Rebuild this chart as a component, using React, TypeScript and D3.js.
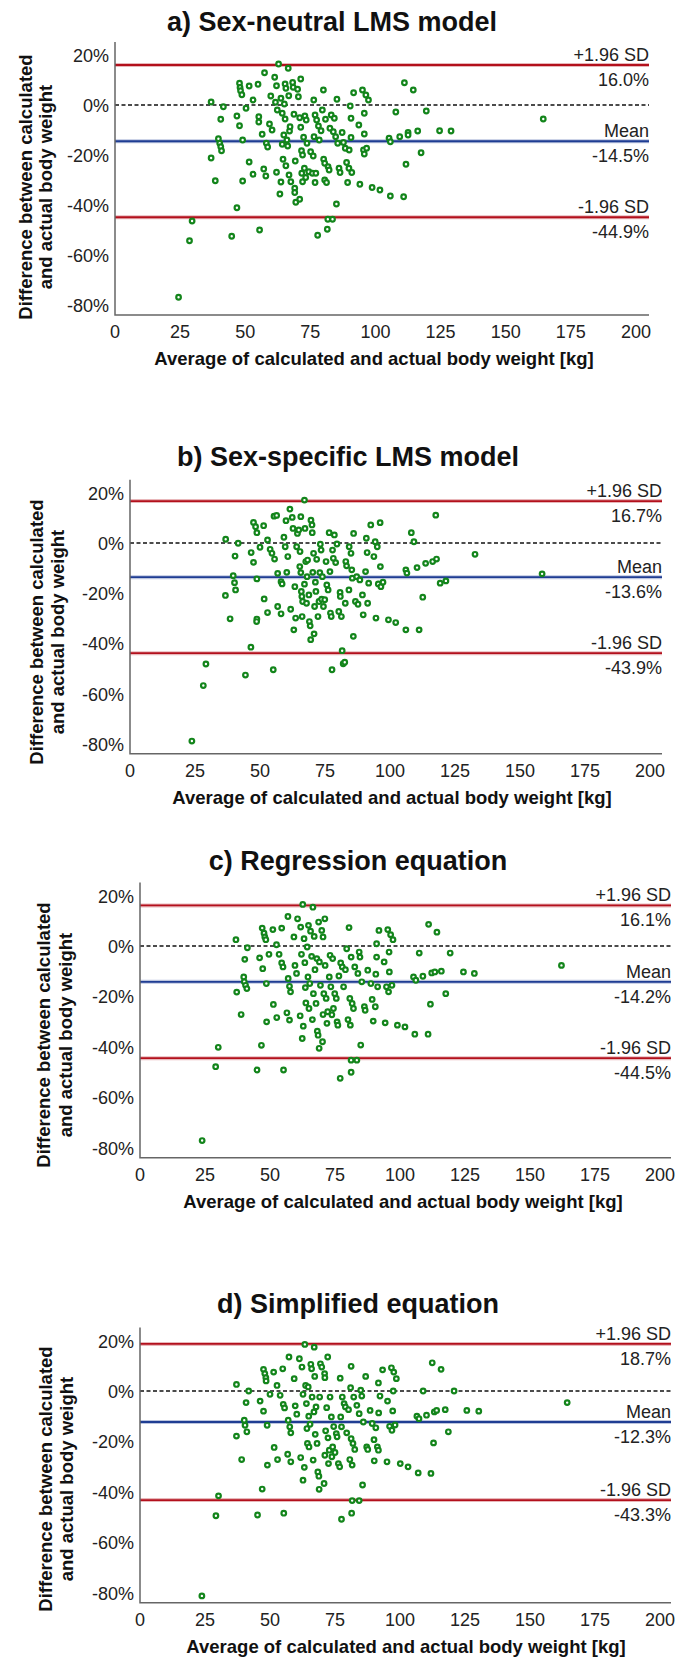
import React, { useEffect } from 'react';
import * as d3 from 'd3';

const panelTitles = [
  'a) Sex-neutral LMS model',
  'b) Sex-specific LMS model',
  'c) Regression equation',
  'd) Simplified equation',
];
const upperLimits = [16.0, 16.7, 16.1, 18.7];
const meanDiffs = [-14.5, -13.6, -14.2, -12.3];
const lowerLimits = [-44.9, -43.9, -44.5, -43.3];
const xTicks = [0, 25, 50, 75, 100, 125, 150, 175, 200];
const yTicks = [20, 0, -20, -40, -60, -80];
const yTitleLines = ['Difference between calculated', 'and actual body weight'];
const xTitle = 'Average of calculated and actual body weight [kg]';

// [average kg, difference %]
const sexNeutral: [number, number][] = [
  [24.4,-76.9],[28.6,-54.3],[29.6,-46.4],[36.9,-21.2],[36.9,1.2],[38.5,-30.3],[39.7,-13.5],[40.2,-15.3],[40.6,-16.7],[40.9,-18.3],
  [40.6,-5.7],[41.6,-0.7],[46.8,-41.1],[44.8,-52.5],[46.8,-4.4],[47.8,8.7],[48,7],[48.2,5.7],[48.7,4.1],[47.8,-8.3],
  [49,-14],[49,-30.4],[50.3,-1.3],[51.5,7.6],[51.5,-22.8],[53,2],[53,-27.7],[54.9,8.3],[55.2,-4.7],[55.2,-6.8],
  [55.5,-50],[56.5,-11.7],[57.1,-25.6],[57.4,12.9],[57.9,-28.4],[58.1,-15.3],[58.6,-16.8],[59.3,-7.6],[59.8,3.6],[60.3,-10],
  [61.3,11.1],[61.6,1.1],[62,7.7],[62,-26.9],[62.3,-2],[62.8,16.4],[63.3,-35.6],[63.7,-30.8],[63.7,2.7],[64.2,-3.3],
  [64.2,-15.7],[64.5,-21.7],[64.8,-12],[65,0.4],[65.3,-5.6],[65.3,8.4],[65.6,6.7],[65.6,-24.3],[66,-14],[66.3,-16.4],
  [66.5,14.7],[66.7,3.7],[66.8,-28],[67,-10.4],[67.2,-8.7],[67.5,-30.7],[68.2,9],[68.4,7.1],[68.7,-3.7],[69,-33.3],
  [69,-35],[69.2,-22.4],[69.4,-38.9],[70.1,6.3],[70.4,3.3],[70.9,-37.7],[70.9,-5.1],[71.3,10.4],[71.3,-8.9],[71.6,-18.3],
  [71.7,-27.3],[72,-30.7],[72,-20],[72.4,-12.9],[72.7,-25.3],[72.9,-4.4],[73.2,-29],[73.4,-6],[73.7,-15.3],[74.4,-26.7],
  [75.1,-18.7],[75.8,-27.3],[76.1,-20.4],[76.3,2],[76.4,-12.7],[76.8,-4],[76.8,-31],[77.1,-27.3],[77.4,-6],[77.8,-52.1],
  [78.1,-8.4],[78.4,-14],[79.1,-10.3],[79.6,-2],[80,6],[80.1,-21.7],[80.5,-30],[80.5,-23.3],[80.8,-5.7],[81.2,-31],
  [81.5,-49.7],[81.7,-45.7],[81.8,-24.7],[82.2,-26],[82.5,-9.3],[83,-4],[83.5,-45.7],[83.8,-10.7],[84.2,-5.3],[84.7,-12.7],
  [85,-39.6],[85.2,2.3],[85.5,-15.3],[86,-25.3],[86.4,-27],[87.2,-11],[87.7,-15],[88.4,-17.3],[88.9,-23],[89.3,-31],
  [89.8,-25.3],[89.9,-18],[90.3,-0.4],[90.6,-5.3],[90.6,-13],[90.9,-27],[91.6,4.9],[93.6,-8],[94,-31.7],[95,6],
  [95.4,-18],[95.7,-3.3],[95.7,-11.6],[95.7,-19.6],[96.3,4],[96.6,-17.3],[97.3,2],[98.7,-33],[101.7,-34],[105.2,-13.3],
  [105.7,-36.4],[105.7,-14.7],[107.8,-2.8],[109.3,-12.7],[110.8,-36.7],[111.1,8.9],[111.7,-23.7],[112.5,-11],[112.5,-12],[114.5,6],
  [116.2,-10.4],[117.5,-19.1],[119.5,-2.4],[124.6,-10.3],[129,-10.4],[164.4,-5.6],
];

const sexSpecific: [number, number][] = [
  [23.8,-78.9],[28.2,-56.8],[29.2,-48.2],[36.7,-20.9],[36.8,1.5],[38.5,-30.2],[39.7,-13],[40.2,-15.8],[40.6,-18.7],[40.4,-5.2],
  [41.6,-0.1],[44.4,-52.6],[46.5,-41.5],[46.6,-3.8],[47.5,8.2],[48.3,6.5],[48.8,4.1],[47.5,-7.7],[48.8,-14.3],[48.8,-30.3],
  [48.7,-31.3],[50,-1.7],[51.4,6.9],[51.6,-22.3],[52.9,1.2],[52.9,-27.7],[53.9,-2.5],[54.6,-4.1],[55.6,-6.4],[55.1,-50.5],
  [55.4,10.7],[56.4,11],[56.8,-12.1],[56.8,-25.3],[58.1,-15.4],[58.5,-16.3],[58.1,-28.2],[59.2,2.3],[59.7,-1.5],[60,8.9],
  [60.3,-11.7],[60.7,-5.4],[61.5,13.5],[61.8,-26.4],[62.4,10.2],[62.7,5.8],[63,-34.6],[63.4,-17.4],[63.7,-29.9],[64.1,-1.5],
  [64.4,3.8],[64.9,5.2],[65.3,-9.4],[65.4,-3.4],[65.7,10.5],[65.7,-11.8],[65.9,-19.3],[66.1,-21.3],[66.2,-29.3],[66.4,-23.3],
  [67.1,17.1],[67.1,-16.4],[67.3,5.8],[67.6,-7.4],[67.9,-24],[68.1,-13.4],[68.3,-6.8],[68.8,-20.7],[69,-31.3],[69.3,-33],
  [69.5,-38.5],[69.6,9.1],[70,7.2],[70.1,4.1],[70.3,-11.7],[70.6,-4.1],[70.8,-36.2],[71,-25.3],[71.3,-15.6],[71.5,-19.3],
  [71.8,-6.5],[72.3,-29.3],[72.7,-23.3],[73,-11.8],[73.2,-0.5],[73.5,-2.8],[73.7,-22.4],[74,-13.4],[74.4,-25.3],[74.9,-22.6],
  [75.4,-7.4],[75.7,-16.7],[76.2,-18.7],[76.6,4.1],[76.9,-11.4],[77.1,-27.9],[77.4,-29.3],[77.7,-50.5],[77.9,-2.8],[78.2,-6.1],
  [78.6,3.2],[79.1,-7.8],[79.6,-0.4],[80.3,-27.3],[80.8,-19.7],[80.9,-21.3],[81.3,-29.3],[81.6,-42.9],[82,-48.1],[82.6,-47.5],
  [82.8,-24],[83,-7.4],[83.3,-9.1],[84.2,-18.7],[84.3,-1.5],[85,-4.1],[85.3,-10.7],[85.5,-14],[85.9,-37.2],[86,3.8],
  [86.7,-23.3],[87.2,-13.4],[87.7,-24.4],[88.4,-14.7],[89.4,-20.7],[89.7,-28.6],[90.6,-11.4],[90.9,1.9],[91.2,-3.8],[91.4,-24],
  [91.8,-16],[92.6,7.2],[93.8,-5.4],[94.3,0.5],[94.6,-29.9],[95.1,-1.5],[95.5,-16.3],[96.2,8.1],[96.3,-9.4],[96.5,-17.4],
  [97.3,-15.6],[99.4,-30.6],[102.2,-31.7],[106.1,-10.7],[106.5,-12],[106.1,-34.6],[108.2,4.1],[109.2,0.5],[110.4,-9.8],[111.2,-34.6],
  [112.6,-21.6],[113.7,-8.1],[116.4,-7.4],[117.9,-6.4],[117.6,11.1],[119.3,-16],[121.5,-15.1],[132.7,-4.5],[158.5,-12.3],
];

const regression: [number, number][] = [
  [23.9,-77.2],[29.1,-47.9],[30.1,-40.2],[36.9,2.5],[37.2,-18.3],[38.9,-27.2],[39.9,-12.3],[40.1,-14.2],[40.6,-15.6],[41.1,-16.9],
  [40.3,-5.3],[41.3,-0.7],[45,-49.2],[46,-4.7],[46.7,-39.4],[47,7.1],[47.7,5.1],[48,3.6],[48.4,2.5],[47.2,-9],
  [48.6,-14.9],[48.7,-30.1],[49.6,-3.3],[51.1,6.5],[51.3,-23.2],[52.5,0.5],[52.6,-28.4],[53.5,-3.3],[54.5,7.1],[54.5,-6.7],
  [55,-8.3],[55.2,-49.2],[56.5,-26.5],[56.9,11.7],[57,-12.9],[57.5,-16],[57.9,-18.2],[57.5,-29.4],[59.2,3.6],[59.6,-7.7],
  [60.2,-10.9],[60.6,10.8],[61.6,-27.7],[61.8,7.5],[62.1,-3.3],[62.4,-36.7],[62.6,16.5],[62.8,-31.8],[63.1,2.9],[63.4,-6.6],
  [63.6,-16.5],[63.8,-22.6],[64.3,-0.4],[64.6,-12.3],[64.8,8.2],[65,-24.8],[65.3,-14.9],[65.6,5.9],[66,-4.1],[66.3,-29.2],
  [66.5,15.4],[66.7,-18.9],[67,3.8],[67.3,-9.4],[67.7,-22.8],[68,-5],[68.2,-33.8],[68.5,-35.4],[68.7,9.5],[68.9,-40.6],
  [69,-6.3],[69.4,-15.6],[69.9,6.2],[70.4,3.6],[70.2,-38],[70.4,-27.2],[70.7,-18.9],[71.1,10.8],[71.2,-7.7],[71.6,-20.8],
  [71.9,-30.7],[72.2,-26.1],[72.8,-12.3],[73.1,-3.7],[73.4,-16.2],[73.8,-27.3],[74.1,-5],[74.4,-24.8],[74.9,-18.9],[75.5,-20.8],
  [75.8,-30.1],[76.1,-31.4],[76.5,-11.9],[77,-52.5],[77.2,-6.7],[77.8,-8.3],[78.3,-16.2],[79,-9.4],[79.5,-1.1],[80,-29.2],
  [80.4,7.3],[80.7,-20.8],[80.9,-31.4],[81.2,-50.1],[81.2,-4.4],[81.6,-22.8],[82.1,-24.8],[81.2,-45.3],[83.4,-45.3],[82.6,-8.3],
  [83.8,-10.9],[84.3,-2.4],[84.6,-4.4],[84.9,-39.3],[85.3,-14.2],[86.3,-24.1],[86.6,-25.5],[87.6,-9.6],[88.8,-14.9],[89.3,-21.2],
  [89.7,-29.8],[90.5,-24.1],[90.7,-11.2],[91,-4.4],[91,0.9],[91.4,-16.2],[91.9,6.2],[93.9,-6.3],[94.3,-30.5],[94.8,-16.2],
  [95.3,6.5],[95.6,-18.2],[95.8,-2.4],[95.9,-10.3],[96.4,4.5],[96.9,-15.6],[97.3,2.5],[99,-31.4],[101.9,-32.1],[105.2,-12.3],
  [105.7,-35],[106.1,-13.6],[107.4,-2.8],[108.8,-12],[110.8,-35],[111,8.6],[111.7,-23.1],[112.2,-10.7],[113.4,-10.3],[114.2,5.5],
  [115.9,-10],[117.6,-18.9],[119.3,-2.8],[124.4,-10.3],[128.6,-10.9],[162.1,-7.7],
];

const simplified: [number, number][] = [
  [23.8,-81.3],[29.2,-49.5],[30.2,-41.6],[37.1,2.6],[37.1,-17.9],[39.1,-27.2],[40.1,-11.6],[40.4,-13.6],[41.1,-16.2],[40.8,-4.6],
  [41.8,0],[45.2,-49.2],[46.2,-4],[47,-38.9],[47.5,8.6],[48,6.9],[48.4,5.3],[48.5,4],[47.5,-8],[48.9,-13.6],
  [49,-29.4],[50,-1.3],[51.4,7.5],[51.6,-22.4],[52.7,2.2],[52.9,-27.2],[53.9,-1.7],[54.9,8.8],[55.1,-5.3],[55.6,-6.7],
  [55.3,-48.5],[56.8,-25.1],[57,-11.6],[57.3,13.5],[57.6,-14.2],[58,-16.6],[58,-28.1],[59.3,4.9],[59.7,-5.9],[60.3,-9.2],
  [61.3,12.8],[61.8,-26.4],[62.3,9.5],[62.7,-1.3],[62.7,-35.4],[63.2,-30.3],[63.4,18.5],[63.7,2.2],[64,-5],[64.2,-14.9],
  [64.4,-20.8],[64.7,1.6],[64.9,-10],[65,-22.2],[65.4,-13.2],[65.7,10.6],[66,8.8],[66.2,-2.4],[66.6,-27.4],[66.9,-8.3],
  [67,17.4],[67.2,5.8],[67.4,-17.2],[67.7,-6.3],[68.1,-20.8],[68.4,-32.1],[68.8,-33.8],[68.9,-39],[69.1,-2.4],[69.4,10.8],
  [69.9,9.5],[70.8,-36.7],[71,6.9],[71.1,5.3],[71.1,-25.5],[71.4,-15.8],[71.8,-6.6],[72.2,13.5],[72.3,-18.6],[72.5,-28.8],
  [72.8,-23.5],[73.1,-2.4],[73.6,-10.3],[73.8,-26.1],[74.1,-22.2],[74.5,-14.1],[75,-24.4],[75.5,-16.9],[75.8,-18.2],[76.3,-28.8],
  [76.8,-30.1],[77,5.1],[77.2,-10.3],[77.5,-50.9],[77.5,-14.2],[77.8,-2.4],[78.5,-5],[79,-6.3],[79.5,-16.6],[80.2,-7.4],
  [80.7,-27.2],[81,1.3],[81.2,9.8],[81.2,-18.9],[81.4,-48.5],[81.6,-29.4],[81.9,-20.8],[82.2,-2.4],[82.6,-23.2],[81.6,-43.5],
  [84.3,-43.5],[83.4,-5.7],[84.3,-9],[84.9,0.3],[85.3,-2],[85.6,-37.3],[85.9,-12.3],[86.8,5.8],[87.2,-22.2],[87.6,-23.2],
  [88.5,-7.7],[89.3,-12.9],[90,-19.3],[90.1,-27.7],[90.7,-14.6],[91.3,-22.2],[91.7,-23.5],[91.7,3.2],[91.8,-8.7],[92.3,-2],
  [93.3,8.4],[95,-28.1],[95.2,-4],[96,-14],[96.7,9.2],[96.9,-15.6],[97.2,-7.9],[97.4,0],[97.6,7.5],[98.1,-13.5],
  [98.6,4.9],[100.1,-28.8],[103.1,-30.1],[106.5,-10],[107,-32.5],[107.3,-11],[108.9,0],[110.2,-9.6],[111.9,-32.7],[112.4,11.2],
  [112.9,-20.6],[113.2,-8.3],[114.1,-7.7],[115.8,8.6],[117.4,-7.4],[118.6,-16.2],[120.8,0],[125.7,-7.7],[130.3,-8],[164.3,-4.6],
];

const panelPoints = [sexNeutral, sexSpecific, regression, simplified];

// page positions of each panel: left = 0 kg, x200 = 200 kg, zero = the 0 % line, pct = px per %
const layout = [
  { left: 115, x200: 636, right: 649, zero: 105, pct: 2.5, titleX: 332, titleDy: -74, yLabX: [25, 45], yLabDy: 82, xTitleX: 374 },
  { left: 130, x200: 650, right: 662, zero: 543, pct: 2.51, titleX: 348, titleDy: -77, yLabX: [36, 57], yLabDy: 89, xTitleX: 392 },
  { left: 140, x200: 660, right: 671, zero: 946, pct: 2.52, titleX: 358, titleDy: -76, yLabX: [43, 65], yLabDy: 89, xTitleX: 403 },
  { left: 140, x200: 660, right: 671, zero: 1391, pct: 2.52, titleX: 358, titleDy: -78, yLabX: [45, 66], yLabDy: 88, xTitleX: 406 },
];

const FONT = '"Liberation Sans", Arial, Helvetica, sans-serif';
const GREEN = '#13851b';
const RED = '#b3101c';
const BLUE = '#1f3d93';

function Panel({ idx }: { idx: number }) {
  const L = layout[idx];
  const points = panelPoints[idx];
  const x = d3.scaleLinear().domain([0, 200]).range([L.left, L.x200]);
  const y = d3.scaleLinear().domain([0, -80]).range([L.zero, L.zero + 80 * L.pct]);
  const top = y(25.2);
  const bottom = y(-84);
  const fmt = (v: number) => `${v.toFixed(1)}%`;

  const refLines = [
    { v: upperLimits[idx], color: RED, above: '+1.96 SD', below: fmt(upperLimits[idx]) },
    { v: meanDiffs[idx], color: BLUE, above: 'Mean', below: fmt(meanDiffs[idx]) },
    { v: lowerLimits[idx], color: RED, above: '-1.96 SD', below: fmt(lowerLimits[idx]) },
  ];

  return (
    <g fontFamily={FONT}>
      <text x={L.titleX} y={L.zero + L.titleDy} textAnchor="middle" fontSize={27} fontWeight="bold" fill="#111">
        {panelTitles[idx]}
      </text>

      {yTitleLines.map((line, i) => (
        <text
          key={i}
          transform={`translate(${L.yLabX[i]}, ${L.zero + L.yLabDy}) rotate(-90)`}
          textAnchor="middle"
          dominantBaseline="central"
          fontSize={18.5}
          fontWeight="bold"
          fill="#111"
        >
          {line}
        </text>
      ))}

      {yTicks.map(t => (
        <text key={t} x={L.left - 6} y={y(t) + 1} textAnchor="end" dominantBaseline="central" fontSize={18} fill="#222">
          {`${t}%`}
        </text>
      ))}

      {xTicks.map(t => (
        <text key={t} x={x(t)} y={y(-84) + 23} textAnchor="middle" fontSize={18} fill="#222">
          {t}
        </text>
      ))}

      <text x={L.xTitleX} y={y(-84) + 50} textAnchor="middle" fontSize={18.5} fontWeight="bold" fill="#111">
        {xTitle}
      </text>

      <line x1={L.left} x2={L.right} y1={y(0)} y2={y(0)} stroke="#111" strokeWidth={1.4} strokeDasharray="4,2.5" />

      {refLines.map((r, i) => (
        <g key={i}>
          <line x1={L.left} x2={L.right} y1={y(r.v)} y2={y(r.v)} stroke={r.color} strokeOpacity={0.3} strokeWidth={4} />
          <line x1={L.left} x2={L.right} y1={y(r.v)} y2={y(r.v)} stroke={r.color} strokeWidth={1.8} />
          <text x={L.right} y={y(r.v) - 4} textAnchor="end" fontSize={18} fill="#222">{r.above}</text>
          <text x={L.right} y={y(r.v) + 21} textAnchor="end" fontSize={18} fill="#222">{r.below}</text>
        </g>
      ))}

      <path d={`M${L.left},${top}V${bottom}H${L.right}`} fill="none" stroke="#666" strokeWidth={1.5} />

      {points.map((p, i) => (
        <circle key={i} cx={x(p[0])} cy={y(p[1])} r={2.3} fill="#fff" stroke={GREEN} strokeWidth={2.2} />
      ))}
    </g>
  );
}

export default function App() {
  useEffect(() => {
    document.body.style.margin = '0';
  }, []);
  return (
    <svg width={688} height={1658} style={{ display: 'block', background: '#fff' }}>
      <rect width={688} height={1658} fill="#fff" />
      {[0, 1, 2, 3].map(i => (
        <Panel key={i} idx={i} />
      ))}
    </svg>
  );
}
